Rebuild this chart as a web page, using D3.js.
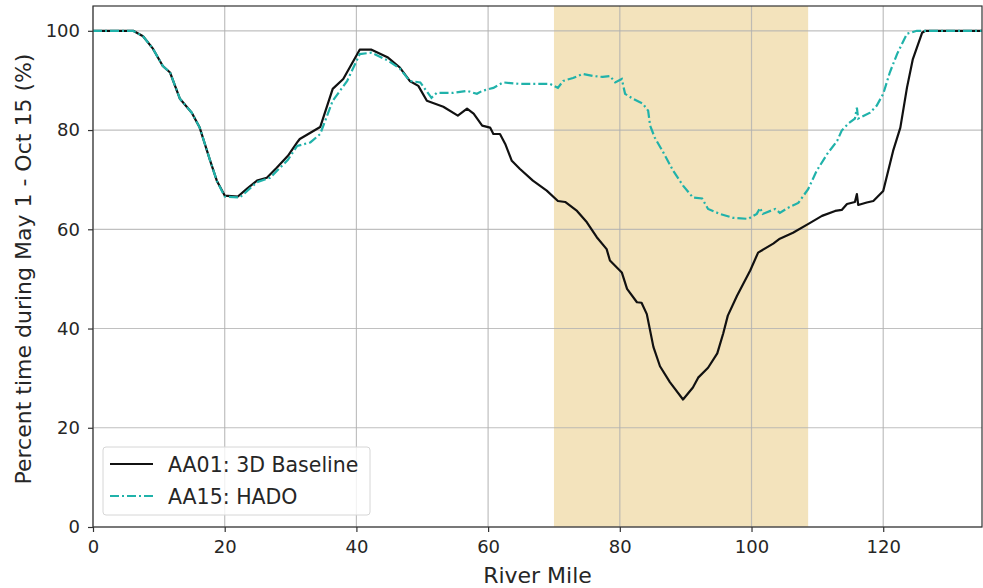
<!DOCTYPE html>
<html><head><meta charset="utf-8">
<script src="https://cdn.jsdelivr.net/npm/d3@7"></script>
<style>body{margin:0;background:#fff}svg{display:block}text{font-family:"DejaVu Sans",sans-serif;fill:#262626}</style>
</head><body>
<svg id="c" width="983" height="588"></svg>
<script>
const xTicks = [0,20,40,60,80,100,120];
const yTicks = [0,20,40,60,80,100];
const shadeRange = [70, 108.6];
const seriesNames = ["AA01: 3D Baseline", "AA15: HADO"];
const baselineX = [0,6.1,7.6,9.1,10.6,11.7,13.2,15,16.2,17.8,18.8,20,22,23.4,24.9,26.4,27.9,29.6,31,31.4,34.5,36.4,38,40.5,42.3,44.8,46.6,48.1,49.4,50.7,53.2,55.4,56.8,57.8,59.1,60.3,60.8,61.8,62.6,63.6,64.8,66.8,68.9,70.6,71.7,73.5,75,76.5,78,78.5,80.3,81.1,82.6,83.3,84.1,85.1,86.1,87.6,89.6,91.1,91.9,93.4,94.8,95.7,96.4,97.8,99.8,101,103.3,104.3,106.3,108.9,110.7,112.7,113.7,114.5,115.7,116,116.2,117.5,118.5,120,121.5,122.6,123.6,124.5,125.9,126.4,135];
const baselineY = [100,100,98.9,96.4,92.9,91.6,86.3,83.5,80.5,73.8,69.8,66.8,66.6,68.2,69.8,70.4,72.4,74.8,77.5,78.2,80.6,88.3,90.3,96.2,96.2,94.6,92.6,89.9,88.9,85.9,84.7,82.9,84.3,83.3,80.9,80.5,79.2,79.2,77.2,73.8,72.2,69.8,67.8,65.7,65.5,63.7,61.4,58.4,56,53.7,51.3,48,45.3,45.2,42.9,36.3,32.4,29.2,25.7,28.1,30.1,32.1,35,39,42.6,46.6,51.7,55.3,57.1,58.1,59.3,61.3,62.7,63.7,63.9,65.1,65.5,67.1,64.9,65.4,65.7,67.7,75.8,80.5,88.5,94.3,99.6,100,100];
const hadoX = [0,6.1,7.6,9.1,10.6,11.7,13.2,15,16.2,17.8,18.8,20,22.3,24.9,26.9,29.6,31,33,34.5,36.4,38.6,40.5,42.3,44.8,46.6,48.1,49.7,50.4,51.4,52.2,54.7,56.8,58.3,59.1,60.8,62.3,64.8,66.8,69.4,70.6,71.4,72.9,74.4,75.9,77.4,78.5,79.3,80.3,80.8,82,83.5,84.3,84.6,85.3,86.6,88.1,89.6,91.1,92.5,93.4,95.2,97.2,99.5,100.8,101.3,101.7,103.6,104.3,105.5,107.1,108.6,109.9,111.5,113,113.7,114.7,115.7,116,116.2,118,119,120,121,122.1,123.6,125.1,135];
const hadoY = [100,100,98.9,96.4,92.9,91.6,86.3,83.5,80.5,73.8,69.8,66.6,66.4,69.5,70.4,74,76.8,77.5,79.2,85.9,89.9,95.3,95.6,94,92.4,89.9,89.6,88.3,86.5,87.5,87.5,87.9,87.3,87.9,88.5,89.6,89.3,89.3,89.3,88.5,89.9,90.5,91.3,90.9,90.7,90.9,89.6,90.3,87.3,86.3,85.3,83.9,80.9,78.5,75.5,71.8,68.8,66.4,66.2,64.1,63.1,62.3,62.1,63.1,64.3,63.1,64.1,63.3,64.3,65.3,68.1,71.8,75.2,77.8,79.9,81.3,82.3,84.5,82.3,83.5,84.9,87.3,91.6,95.3,99.4,100,100];

const svg = d3.select("#c");
const L = 93, R = 982, T = 6, B = 527;
const x = d3.scaleLinear().domain([0,135]).range([L,R]);
const y = d3.scaleLinear().domain([0,105]).range([B,T]);

// shade
svg.append("rect").attr("x", x(shadeRange[0])).attr("y", T)
  .attr("width", x(shadeRange[1]) - x(shadeRange[0])).attr("height", B - T)
  .attr("fill", "#f3e3bc");

// grid
const g = svg.append("g");
xTicks.forEach(t => g.append("line").attr("x1", x(t)).attr("x2", x(t)).attr("y1", T).attr("y2", B)
  .attr("stroke", "#b0b0b0").attr("stroke-width", 1.2).attr("stroke-opacity", 0.8));
yTicks.forEach(t => g.append("line").attr("y1", y(t)).attr("y2", y(t)).attr("x1", L).attr("x2", R)
  .attr("stroke", "#b0b0b0").attr("stroke-width", 1.2).attr("stroke-opacity", 0.8));

// lines
const line = d3.line().x(d => x(d[0])).y(d => y(d[1]));
const baseData = baselineX.map((v,i) => [v, baselineY[i]]);
const hadoData = hadoX.map((v,i) => [v, hadoY[i]]);
svg.append("path").datum(baseData).attr("d", line).attr("fill", "none")
  .attr("stroke", "#111").attr("stroke-width", 2.2).attr("stroke-linejoin", "round");
svg.append("path").datum(hadoData).attr("d", line).attr("fill", "none")
  .attr("stroke", "#20b2aa").attr("stroke-width", 2.2).attr("stroke-dasharray", "9,3,2,3");

// frame
svg.append("rect").attr("x", L).attr("y", T).attr("width", R - L).attr("height", B - T)
  .attr("fill", "none").attr("stroke", "#333").attr("stroke-width", 1.2);

// axes
const xAxis = svg.append("g").attr("transform", `translate(0,${B})`)
  .call(d3.axisBottom(x).tickValues(xTicks).tickSize(5).tickPadding(8));
const yAxis = svg.append("g").attr("transform", `translate(${L},0)`)
  .call(d3.axisLeft(y).tickValues(yTicks).tickSize(5).tickPadding(8));
[xAxis, yAxis].forEach(a => {
  a.select(".domain").remove();
  a.selectAll(".tick line").attr("stroke", "#333").attr("stroke-width", 1.2);
  a.selectAll(".tick text").attr("font-size", 18).attr("fill", "#262626")
    .style("font-family", "DejaVu Sans, sans-serif");
});

svg.append("text").attr("x", (L + R) / 2).attr("y", 583).attr("text-anchor", "middle")
  .attr("font-size", 22).text("River Mile");
svg.append("text").attr("transform", `translate(31,269) rotate(-90)`)
  .attr("text-anchor", "middle").attr("font-size", 22).text("Percent time during May 1 - Oct 15 (%)");

// legend
const lg = svg.append("g");
lg.append("rect").attr("x", 103).attr("y", 447).attr("width", 267).attr("height", 68).attr("rx", 3)
  .attr("fill", "#fff").attr("fill-opacity", 0.8).attr("stroke", "#d6d6d6");
const styles = [{c:"#111", d:null}, {c:"#20b2aa", d:"9,3,2,3"}];
seriesNames.forEach((n, i) => {
  const yy = 464 + i * 32;
  const l = lg.append("line").attr("x1", 110).attr("x2", 153).attr("y1", yy).attr("y2", yy)
    .attr("stroke", styles[i].c).attr("stroke-width", 2.2);
  if (styles[i].d) l.attr("stroke-dasharray", styles[i].d);
  lg.append("text").attr("x", 168).attr("y", yy + 8).attr("font-size", 20.5).text(n);
});
</script>
</body></html>
